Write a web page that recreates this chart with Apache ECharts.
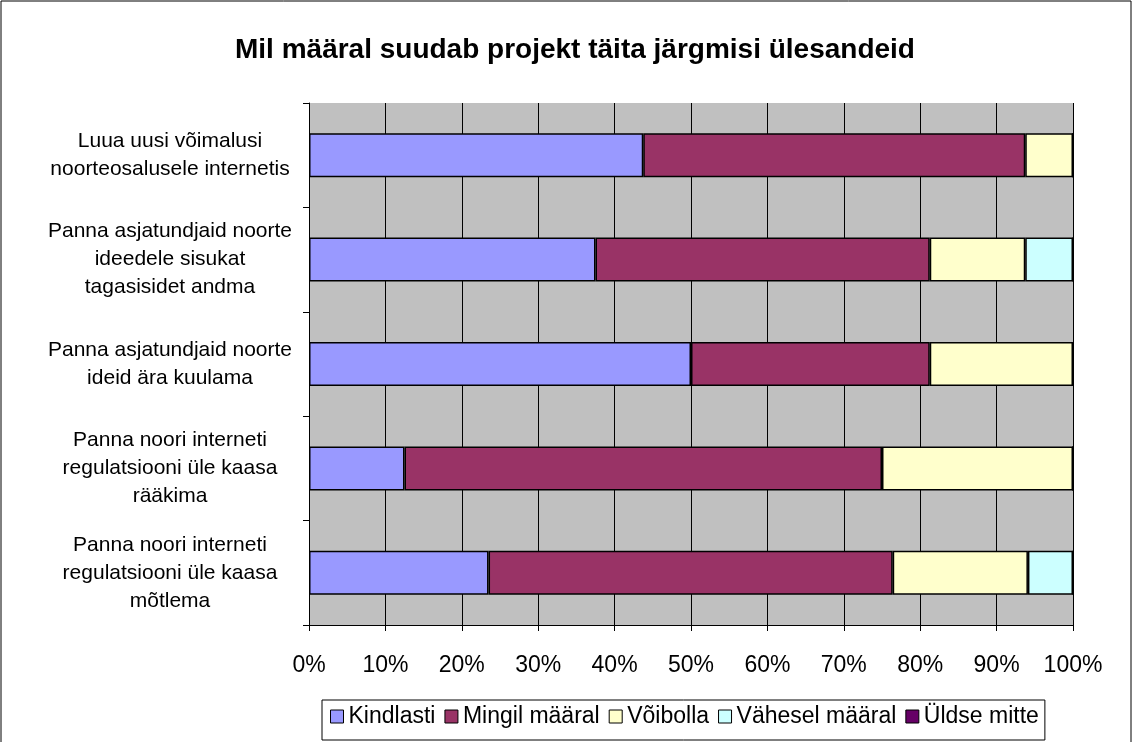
<!DOCTYPE html>
<html>
<head>
<meta charset="utf-8">
<script src="https://cdn.jsdelivr.net/npm/echarts@6/dist/echarts.min.js"></script>
<style>
  html, body { margin: 0; padding: 0; background: #fff; }
  #chart { width: 1133px; height: 742px; }
</style>
</head>
<body>
<div id="chart"></div>
<script>
// kategooriad (ülevalt alla)
var categories = [
  'Luua uusi võimalusi\nnoorteosalusele internetis',
  'Panna asjatundjaid noorte\nideedele sisukat\ntagasisidet andma',
  'Panna asjatundjaid noorte\nideid ära kuulama',
  'Panna noori interneti\nregulatsiooni üle kaasa\nrääkima',
  'Panna noori interneti\nregulatsiooni üle kaasa\nmõtlema'
];
var seriesNames = ['Kindlasti', 'Mingil määral', 'Võibolla', 'Vähesel määral', 'Üldse mitte'];
var colors = ['#9999FF', '#993366', '#FFFFCC', '#CCFFFF', '#660066'];
// protsendid
var kindlasti = [43.75, 37.5, 50, 12.5, 23.5];
var mingil = [50, 43.75, 31.25, 62.5, 52.9];
var voibolla = [6.25, 12.5, 18.75, 25, 17.7];
var vahesel = [0, 6.25, 0, 0, 5.9];
var uldse = [0, 0, 0, 0, 0];
var values = [kindlasti, mingil, voibolla, vahesel, uldse];

var font = 'Liberation Sans, Arial, sans-serif';

var series = [];
for (var i = 0; i < seriesNames.length; i++) {
  series.push({
    type: 'bar',
    name: seriesNames[i],
    stack: 'total',
    data: values[i],
    barWidth: 44,
    itemStyle: { color: colors[i], borderColor: '#000', borderWidth: 1.5 },
    emphasis: { disabled: true }
  });
}

var chart = echarts.init(document.getElementById('chart'));
chart.setOption({
  animation: false,
  backgroundColor: '#fff',
  title: {
    text: 'Mil määral suudab projekt täita järgmisi ülesandeid',
    left: 230,
    top: 31,
    textStyle: { fontFamily: font, fontSize: 28, fontWeight: 'bold', color: '#000' }
  },
  graphic: [{
    type: 'rect',
    shape: { x: 1, y: 1, width: 1130, height: 800 },
    style: { fill: 'none', stroke: '#000', lineWidth: 1 },
    silent: true
  }],
  legend: {
    data: seriesNames,
    left: 322,
    top: 700,
    padding: [5, 6, 12, 8],
    itemGap: 9,
    itemWidth: 13,
    itemHeight: 13,
    icon: 'rect',
    borderColor: '#000',
    borderWidth: 1,
    itemStyle: { borderColor: '#000', borderWidth: 1 },
    textStyle: { fontFamily: font, fontSize: 23, color: '#000' }
  },
  grid: {
    left: 309,
    right: 60,
    top: 103,
    bottom: 117,
    show: true,
    backgroundColor: '#C0C0C0',
    borderWidth: 0
  },
  xAxis: {
    type: 'value',
    min: 0,
    max: 100,
    interval: 10,
    axisLine: { show: true, lineStyle: { color: '#000', width: 1 } },
    axisTick: { show: true, length: 6, lineStyle: { color: '#000' } },
    axisLabel: {
      formatter: '{value}%',
      margin: 29,
      fontFamily: font,
      fontSize: 23,
      color: '#000'
    },
    splitLine: { show: true, lineStyle: { color: '#000', width: 1 } }
  },
  yAxis: {
    type: 'category',
    data: categories,
    inverse: true,
    axisLine: { show: true, lineStyle: { color: '#000', width: 1 } },
    axisTick: { show: true, length: 6, lineStyle: { color: '#000' } },
    axisLabel: {
      align: 'center',
      margin: 139,
      fontFamily: font,
      fontSize: 21,
      lineHeight: 28,
      color: '#000'
    },
    splitLine: { show: false }
  },
  series: series
});
</script>
</body>
</html>
